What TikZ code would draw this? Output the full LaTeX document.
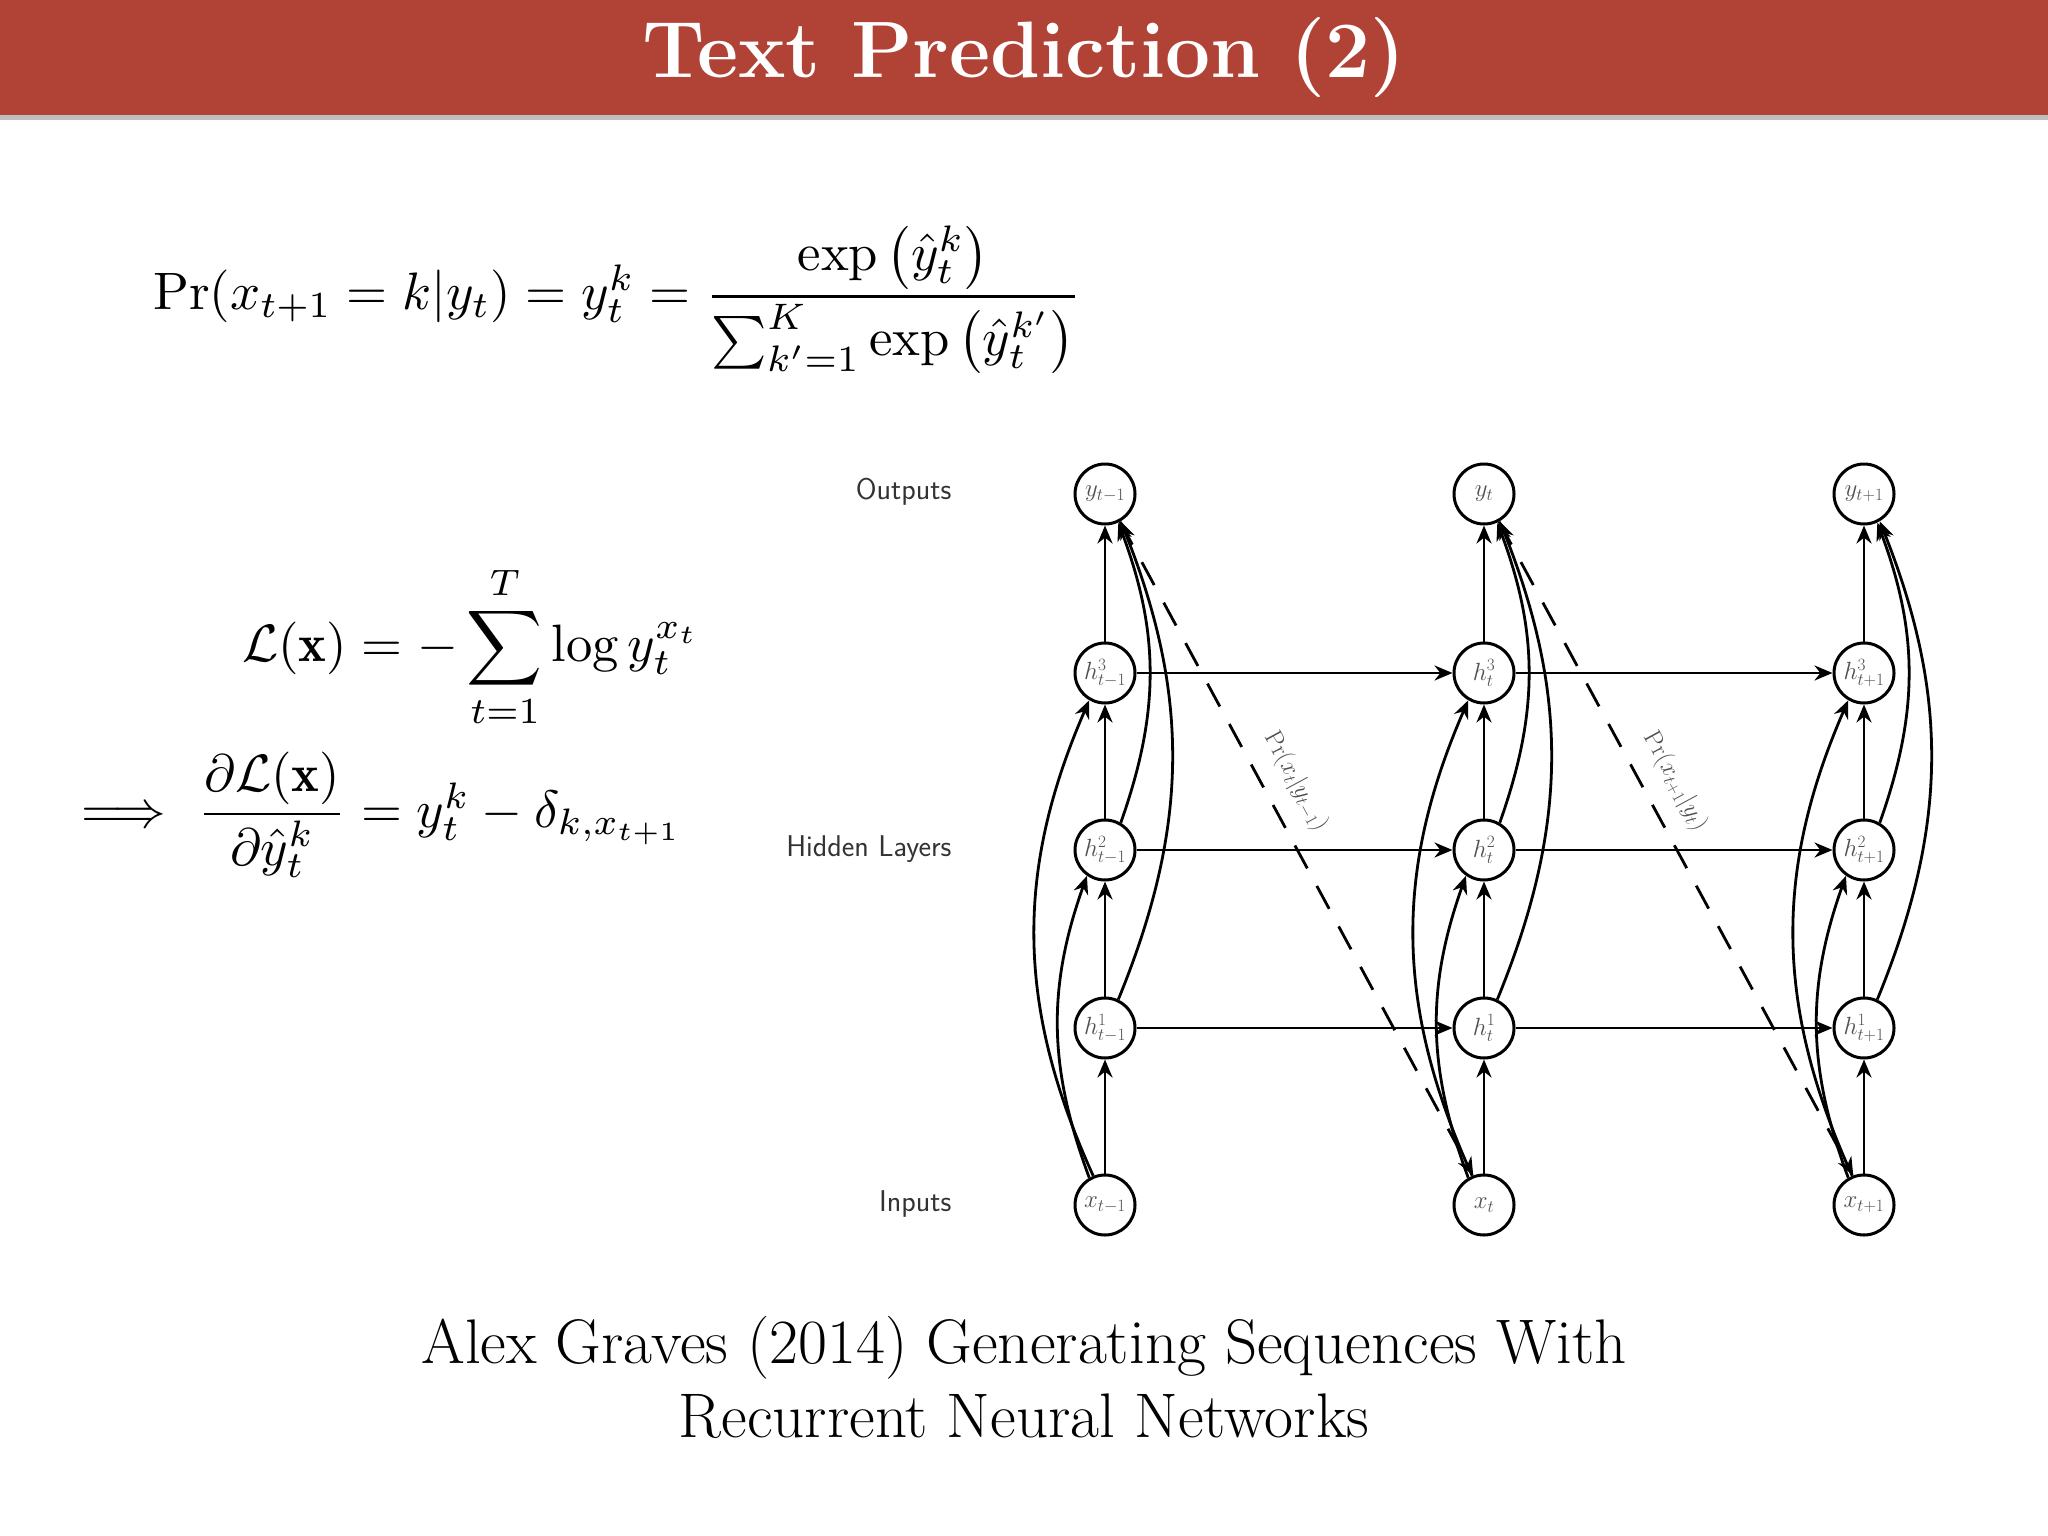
\documentclass[tikz,border=0pt]{standalone}
\usepackage{fontspec}
\usepackage{amsmath,amssymb}
\usetikzlibrary{arrows.meta}
\definecolor{titlered}{RGB}{176,66,54}
\definecolor{nodetxt}{RGB}{80,80,80}
\begin{document}
\begin{tikzpicture}[x=1pt,y=-1pt,
  nd/.style={circle,draw,line width=3pt,minimum size=60pt,inner sep=0pt,font=\fontsize{25}{27}\selectfont,text=nodetxt},
  ar/.style={line width=2.8pt,-{Stealth[length=18pt,width=15pt]}},
  lbl/.style={font=\fontsize{30}{34}\selectfont\sffamily,anchor=east,text=black!80}]
\useasboundingbox (0,0) rectangle (2048,1536);
\fill[black!25] (0,114) rectangle (2048,120);
\fill[titlered] (0,0) rectangle (2048,115);
\node[text=white,font=\fontsize{80}{84}\selectfont\bfseries] (title) at (1024,58) {Text Prediction (2)};
% equations
\node[anchor=west,inner sep=0pt] (eq1) at (153,300) {\resizebox{928pt}{!}{$\Pr(x_{t+1}=k|y_t)=y_t^k=\dfrac{\exp\left(\hat y_t^k\right)}{\sum_{k'=1}^{K}\exp\left(\hat y_t^{k'}\right)}$}};
\node[anchor=west,inner sep=0pt] (eq2) at (242,647) {\resizebox{457pt}{!}{$\mathcal{L}(\mathbf{x})=-\displaystyle\sum_{t=1}^{T}\log y_t^{x_t}$}};
\node[anchor=west,inner sep=0pt] (eq3) at (81,815) {\resizebox{601pt}{!}{$\Longrightarrow\ \dfrac{\partial\mathcal{L}(\mathbf{x})}{\partial\hat y_t^k}=y_t^k-\delta_{k,x_{t+1}}$}};
% labels
\node[lbl] (lo) at (955,492) {Outputs};
\node[lbl] (lh) at (955,849) {Hidden Layers};
\node[lbl] (li) at (955,1204) {Inputs};
% nodes
\foreach \c/\x/\s in {a/1105/{t-1},b/1484/t,c/1864/{t+1}}{
  \node[nd] (y\c) at (\x,494) {$y_{\s}$};
  \node[nd] (hc\c) at (\x,673) {$h^3_{\s}$};
  \node[nd] (hb\c) at (\x,850) {$h^2_{\s}$};
  \node[nd] (ha\c) at (\x,1028) {$h^1_{\s}$};
  \node[nd] (x\c) at (\x,1205) {$x_{\s}$};
  \draw[ar] (x\c) -- (ha\c);
  \draw[ar] (ha\c) -- (hb\c);
  \draw[ar] (hb\c) -- (hc\c);
  \draw[ar] (hc\c) -- (y\c);
  \draw[ar] (x\c.120) to[bend left=20] (hb\c.235);
  \draw[ar] (x\c.112) to[bend left=24] (hc\c.240);
  \draw[ar] (hb\c.60) to[bend right=20] (y\c.295);
  \draw[ar] (ha\c.65) to[bend right=22] (y\c.300);
}
\foreach \l in {ha,hb,hc}{
  \draw[ar] (\l a) -- (\l b);
  \draw[ar] (\l b) -- (\l c);}
\draw[ar,dash pattern=on 26pt off 20pt] (ya) -- node[sloped,above=14pt,font=\fontsize{25}{27}\selectfont,text=nodetxt,pos=0.42] {$\Pr(x_t|y_{t-1})$} (xb.110);
\draw[ar,dash pattern=on 26pt off 20pt] (yb) -- node[sloped,above=14pt,font=\fontsize{25}{27}\selectfont,text=nodetxt,pos=0.42] {$\Pr(x_{t+1}|y_t)$} (xc.110);
% caption
\node[font=\fontsize{63}{74}\selectfont,align=center] (cap) at (1024,1377) {Alex Graves (2014) Generating Sequences With\\Recurrent Neural Networks};
\end{tikzpicture}
\end{document}
